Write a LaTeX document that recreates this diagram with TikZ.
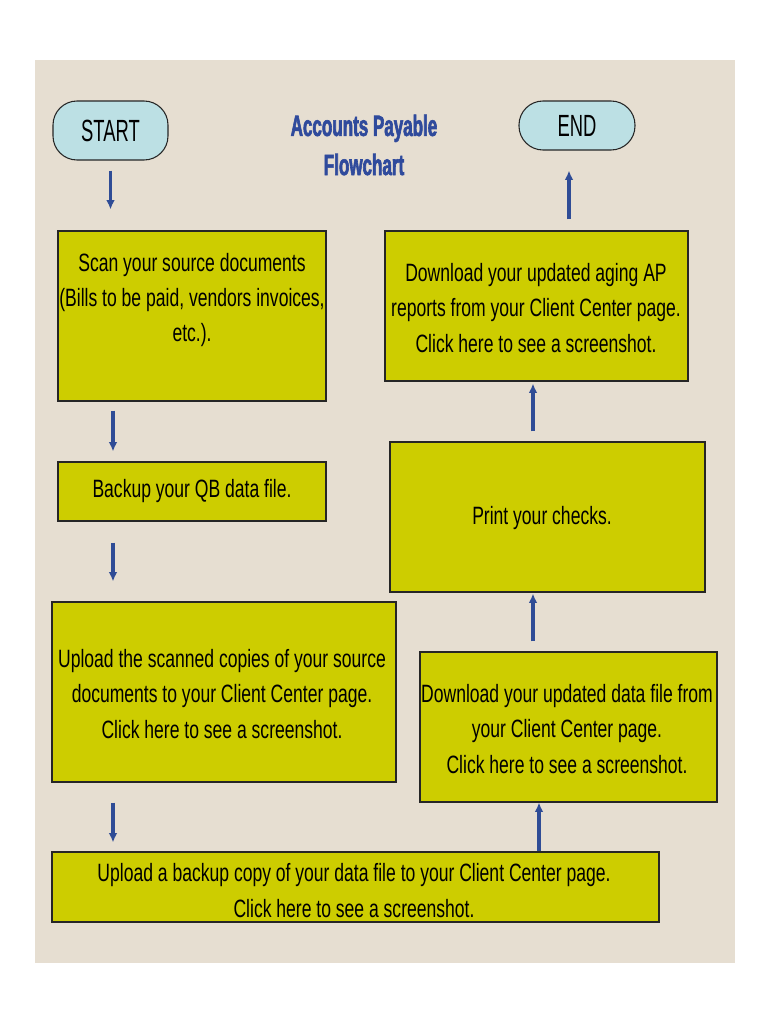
\documentclass[tikz,border=0pt]{standalone}
\usepackage{fontspec}
\setmainfont{Liberation Sans}[FakeStretch=0.70]
\newfontfamily\termfont{Liberation Sans}[FakeStretch=0.60]
\newfontfamily\titlefont{Liberation Sans Bold}[FakeStretch=0.58,FakeBold=2]
\usepackage{tikz}
\usetikzlibrary{arrows.meta,positioning}
\usepackage{xcolor}

\definecolor{paper}{HTML}{E6DED1}
\definecolor{olivebox}{HTML}{CDCD00}
\definecolor{termblue}{HTML}{BCE0E4}
\definecolor{arrowblue}{HTML}{2F4C96}
\definecolor{titleblue}{HTML}{2F4A9C}

\tikzset{
  stepbox/.style={draw=black!85,line width=0.8pt,fill=olivebox,inner sep=0pt},
  steptxt/.style={align=center,inner sep=0pt,font=\fontsize{18.8}{26.3}\selectfont},
  term/.style={draw=black!85,line width=0.8pt,fill=termblue,rounded corners=18pt,
    font=\termfont\fontsize{23}{26}\selectfont,inner sep=0pt},
  flow/.style={draw=arrowblue,line width=2.7pt,-{Latex[length=7pt,width=6.5pt]}}
}

\begin{document}
\begin{tikzpicture}[x=0.75pt,y=-0.75pt]
\useasboundingbox (0,0) rectangle (770,1024);
\fill[white] (0,0) rectangle (770,1024);
\fill[paper] (35,60) rectangle (735,963);

% terminals and title
\node[term,minimum width=86.25pt,minimum height=44.25pt] (start) at (110.5,130.5) {START};
\node[term,minimum width=87pt,minimum height=36.75pt] (end) at (577,125.5) {END};
\node[align=center,text=titleblue,font=\titlefont\fontsize{22}{29.3}\selectfont] (title) at (364,145) {Accounts Payable\\Flowchart};

% left column
\node[stepbox,minimum width=201pt,minimum height=127.5pt] (scan) at (192,316) {};
\node[steptxt] (scantxt) at (192,300) {Scan your source documents\\(Bills to be paid, vendors invoices,\\etc.).};
\node[stepbox,minimum width=201pt,minimum height=44.25pt] (backup) at (192,491.5) {};
\node[steptxt] (backuptxt) at (192,491.5) {Backup your QB data file.};
\node[stepbox,minimum width=258pt,minimum height=135pt] (upscan) at (224,692) {};
\node[steptxt] (upscantxt) at (222,694) {Upload the scanned copies of your source\\documents to your Client Center page.\\Click here to see a screenshot.};
\node[stepbox,minimum width=455.25pt,minimum height=52.5pt] (upback) at (355.5,887) {};
\node[steptxt] (upbacktxt) at (354,890.5) {Upload a backup copy of your data file to your Client Center page.\\Click here to see a screenshot.};

% right column
\node[stepbox,minimum width=222.75pt,minimum height=112.5pt] (dldata) at (568.5,727) {};
\node[steptxt] (dldatatxt) at (567,729) {Download your updated data file from\\your Client Center page.\\Click here to see a screenshot.};
\node[stepbox,minimum width=236.25pt,minimum height=112.5pt] (print) at (547.5,517) {};
\node[steptxt] (printtxt) at (542,518) {Print your checks.};
\node[stepbox,minimum width=227.25pt,minimum height=112.5pt] (aging) at (536.5,306) {};
\node[steptxt] (agingtxt) at (536,308) {Download your updated aging AP\\reports from your Client Center page.\\Click here to see a screenshot.};

% arrow columns
\coordinate (lx) at (113,0);
\coordinate (rx) at (533,0);
\coordinate (bx) at (539,0);
\coordinate (ex) at (569,0);

\draw[flow,shorten <=7.5pt,shorten >=15.75pt] (start.south) -- (start.south |- scan.north);
\draw[flow,shorten <=6.75pt,shorten >=7.5pt] (scan.south -| lx) -- (backup.north -| lx);
\draw[flow,shorten <=15.75pt,shorten >=15pt] (backup.south -| lx) -- (upscan.north -| lx);
\draw[flow,shorten <=15pt,shorten >=6.75pt] (upscan.south -| lx) -- (upback.north -| lx);
\draw[flow] (upback.north -| bx) -- (dldata.south -| bx);
\draw[flow,shorten <=7.5pt,shorten >=0.75pt] (dldata.north -| rx) -- (print.south -| rx);
\draw[flow,shorten <=7.5pt,shorten >=1.5pt] (print.north -| rx) -- (aging.south -| rx);
\draw[flow,shorten <=8.25pt,shorten >=15pt] (aging.north -| ex) -- (end.south -| ex);
\end{tikzpicture}
\end{document}
